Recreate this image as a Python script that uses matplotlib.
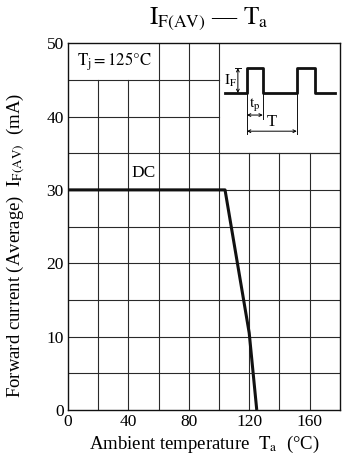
import matplotlib
matplotlib.use("Agg")
import matplotlib.pyplot as plt
import numpy as np

plt.rcParams['font.family'] = ['Liberation Serif', 'DejaVu Serif']
plt.rcParams['mathtext.fontset'] = 'stix'

# derating curve
temp = [0, 104, 120, 125]
current = [30, 30, 10.5, 0]

x_ticks = [0, 40, 80, 120, 160]
y_ticks = [0, 10, 20, 30, 40, 50]
x_grid = [20, 40, 60, 80, 100, 120, 140, 160]
y_grid = [5, 10, 15, 20, 25, 30, 35, 40, 45]

fig = plt.figure(figsize=(3.5, 4.62), dpi=100)
ax = fig.add_axes([0.194, 0.1126, 0.777, 0.794])
ax.set_xlim(0, 180)
ax.set_ylim(0, 50)

gc = '#2a2a2a'
glw = 0.8
# grid, leaving the two boxes at the top clear
for x in x_grid:
    top = 50
    if x in (20, 40):
        top = 45
    if x in (120, 140, 160):
        top = 35
    ax.plot([x, x], [0, top], color=gc, lw=glw, zorder=1)
for y in y_grid:
    right = 180
    if y in (40, 45):
        right = 100
    ax.plot([0, right], [y, y], color=gc, lw=glw, zorder=1)
ax.plot([100, 180], [35, 35], color=gc, lw=glw, zorder=1)

ax.plot(temp, current, color='#111111', lw=2.2, zorder=3, solid_capstyle='butt')

ax.text(50, 32.3, 'DC', fontsize=12.5, ha='center', va='center')
ax.text(30.5, 47.5, r'$\mathrm{T_j = 125°C}$', fontsize=12, ha='center', va='center')

# pulse sketch in the inset
px = [104, 118.5, 118.5, 129, 129, 151.5, 151.5, 163.5, 163.5, 176.5]
py = [43.2, 43.2, 46.6, 46.6, 43.2, 43.2, 46.6, 46.6, 43.2, 43.2]
ax.plot(px, py, color='#111111', lw=2.0, zorder=3)
thin = dict(color='#111111', lw=0.7, zorder=3)
ax.plot([110.5, 114.5], [46.6, 46.6], **thin)
ax.annotate('', xy=(112.5, 46.6), xytext=(112.5, 43.2),
            arrowprops=dict(arrowstyle='<->', lw=0.7, shrinkA=0, shrinkB=0,
                            mutation_scale=5))
ax.text(107.8, 44.9, r'$\mathrm{I_F}$', fontsize=11, ha='center', va='center')
ax.plot([118.5, 118.5], [43.2, 37.6], **thin)
ax.plot([129, 129], [43.2, 39.6], **thin)
ax.plot([151.5, 151.5], [43.2, 37.6], **thin)
ax.annotate('', xy=(118.5, 40.2), xytext=(129, 40.2),
            arrowprops=dict(arrowstyle='<->', lw=0.7, shrinkA=0, shrinkB=0,
                            mutation_scale=5))
ax.annotate('', xy=(118.5, 38.0), xytext=(151.5, 38.0),
            arrowprops=dict(arrowstyle='<->', lw=0.7, shrinkA=0, shrinkB=0,
                            mutation_scale=5))
ax.text(123.5, 41.7, r'$\mathrm{t_p}$', fontsize=11, ha='center', va='center')
ax.text(135, 39.3, 'T', fontsize=12, ha='center', va='center')

ax.set_xticks(x_ticks)
ax.set_yticks(y_ticks)
ax.tick_params(length=0, labelsize=12.5, pad=3)
for s in ax.spines.values():
    s.set_linewidth(1.0)
    s.set_color('#111111')

ax.set_xlabel(r'Ambient temperature  $\mathrm{T_a}$  (°C)', fontsize=13.5, labelpad=3)
ax.set_ylabel(r'Forward current (Average)  $\mathrm{I_{F(AV)}}$  (mA)', fontsize=13.5)
ax.yaxis.set_label_coords(-0.15, 0.447)
fig.text(0.597, 0.958, r'$\mathrm{I_{F(AV)}}$ — $\mathrm{T_a}$', fontsize=18,
         ha='center', va='center')

fig.savefig('out.png', dpi=100)
